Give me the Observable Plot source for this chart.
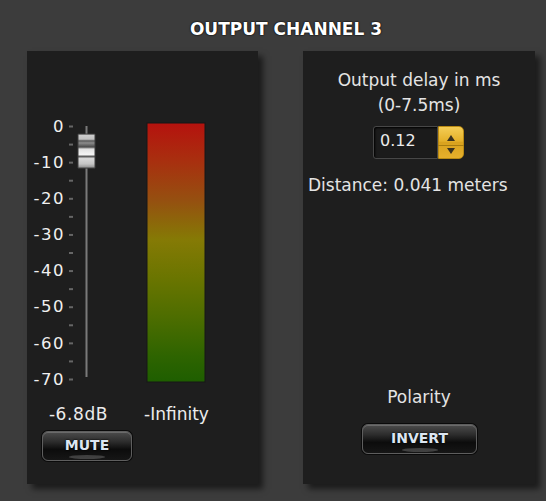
<!DOCTYPE html>
<html><head><meta charset="utf-8">
<script src="https://cdn.jsdelivr.net/npm/d3@7"></script>
<script src="https://cdn.jsdelivr.net/npm/@observablehq/plot@0.6"></script>
<style>
html,body{margin:0;padding:0;}
body{width:546px;height:501px;background:#3c3c3c;position:relative;overflow:hidden;font-family:"DejaVu Sans",Verdana,sans-serif;color:#e6e6e6;}
.panel{position:absolute;background:#1e1e1e;box-shadow:5px 5px 6px rgba(0,0,0,0.55);}
#title{position:absolute;left:186px;width:200px;top:19px;text-align:center;font-weight:bold;font-size:17px;color:#fff;text-shadow:0 0 2px #000,0 0 1px #000;line-height:20px;white-space:nowrap;}
.txt{position:absolute;font-size:17px;line-height:20px;white-space:nowrap;color:#e4e4e4;}
.ctr{left:303px;width:232px;text-align:center;}
.btn{position:absolute;box-sizing:border-box;border-radius:6px;border:1px solid #5e5e5e;background:linear-gradient(#4c4c4c 0%,#2c2c2c 35%,#0c0c0c 62%,#161616 100%);box-shadow:inset 0 1px 0 rgba(255,255,255,0.18),0 0 0 1px #0a0a0a;text-align:center;font-weight:bold;font-size:14px;line-height:26px;color:#dce6f2;text-shadow:0 0 2px #000,0 0 1px #000;}
.btn::after{content:"";position:absolute;left:50%;bottom:1px;width:36px;margin-left:-18px;height:4px;border-radius:50%;background:rgba(120,120,120,0.45);}
#spin{position:absolute;left:373px;top:126px;width:65px;height:33px;box-sizing:border-box;background:#1b1b1b;border:1px solid #474747;border-radius:3px 0 0 3px;box-shadow:inset 1px 1px 2px #000;}
#spinVal{position:absolute;left:380px;top:131px;font-size:16px;line-height:20px;color:#ececec;}
#spinBtn{position:absolute;left:438px;top:126px;width:26px;height:33px;box-sizing:border-box;background:linear-gradient(#f4cd55,#e5b12a 45%,#d9a21e 50%,#e6b02c 100%);border-radius:0 5px 5px 0;border:1px solid #b98a14;}
#sep{position:absolute;left:438px;top:145px;width:26px;height:1px;background:#a87d10;}
.tri{position:absolute;width:0;height:0;border-left:4px solid transparent;border-right:4px solid transparent;}
#up{left:447px;top:135px;border-bottom:6px solid #3a3220;}
#dn{left:447px;top:148px;border-top:6px solid #3a3220;}
svg.main{position:absolute;left:0;top:0;}
svg.main g[aria-label="y-axis tick label"] text{letter-spacing:1.5px;}
svg.main g.faderlab text{letter-spacing:0.6px;}
</style>
</head><body>
<script>
// ---- data ----
const titleText = "OUTPUT CHANNEL 3";
const channels = ["fader", "meter"];
const majorTicks = [0, -10, -20, -30, -40, -50, -60, -70];
const minorTicks = [-5, -15, -25, -35, -45, -55, -65];
const meterSpan = [0, -70];
const faderLevel = [-6.8];
const meterLevel = [-Infinity];
const delayLabels = ["Output delay in ms", "(0-7.5ms)"];
const delayValue = [0.12];
const distanceValue = [0.041];
const polarityLabel = ["Polarity"];
const buttonLabels = ["MUTE", "INVERT"];

// ---- chrome ----
function el(tag, attrs, text) {
  const e = document.createElement(tag);
  Object.assign(e, attrs);
  if (text != null) e.textContent = text;
  document.body.appendChild(e);
  return e;
}
el("div", {id: "title"}, titleText);
const p1 = el("div", {className: "panel"}); Object.assign(p1.style, {left: "27px", top: "51px", width: "231px", height: "433px"});
const p2 = el("div", {className: "panel"}); Object.assign(p2.style, {left: "303px", top: "51px", width: "232px", height: "433px"});
const t1 = el("div", {className: "txt ctr"}, delayLabels[0]); t1.style.top = "70px";
const t2 = el("div", {className: "txt ctr"}, delayLabels[1]); t2.style.top = "95px";
el("div", {id: "spin"});
el("div", {id: "spinVal"}, delayValue[0].toFixed(2));
el("div", {id: "spinBtn"});
el("div", {id: "sep"});
el("div", {id: "up", className: "tri"});
el("div", {id: "dn", className: "tri"});
const t3 = el("div", {className: "txt"}, `Distance: ${distanceValue[0]} meters`); Object.assign(t3.style, {left: "308px", top: "175px"});
const t4 = el("div", {className: "txt ctr"}, polarityLabel[0]); t4.style.top = "387px";
const b1 = el("div", {className: "btn"}, buttonLabels[0]); Object.assign(b1.style, {left: "42px", top: "431px", width: "90px", height: "30px"});
const b2 = el("div", {className: "btn"}, buttonLabels[1]); Object.assign(b2.style, {left: "362px", top: "424px", width: "115px", height: "30px"});

// ---- plot ----
const knobSymbol = {draw(ctx) { ctx.rect(-8.5, -17, 17, 34); }};
const meterRows = [{ch: "meter", hi: meterSpan[0], lo: meterSpan[1]}];

const svg = Plot.plot({
  width: 546, height: 501,
  marginTop: 126, marginBottom: 122, marginLeft: 73, marginRight: 341,
  style: {background: "transparent", color: "#f0f0f0", fontFamily: "DejaVu Sans", fontSize: "16px", overflow: "visible"},
  x: {type: "band", domain: channels, range: [56.5, 205], paddingInner: 0.3591, paddingOuter: 0, axis: null},
  y: {domain: [-70, 0], label: null},
  marks: [
    Plot.barY(meterRows, {x: "ch", y1: "lo", y2: "hi", fill: "url(#meterGrad)", insetTop: -3, insetBottom: -3, stroke: "#161616", strokeWidth: 1}),
    Plot.axisY({ticks: [...majorTicks, ...minorTicks], tickSize: 4, tickFormat: () => "", stroke: "#666", strokeWidth: 2, label: null}),
    Plot.axisY({ticks: majorTicks, tickSize: 0, tickPadding: 8.5, tickFormat: d => String(d), fontSize: 16.5, fill: "#f0f0f0", label: null}),
    Plot.ruleX(["fader"], {y1: meterSpan[0], y2: meterSpan[1], stroke: "#7a7a7a", strokeWidth: 2, insetBottom: 2}),
    Plot.dot(faderLevel, {x: () => "fader", y: d => d, symbol: knobSymbol, r: 5, fill: "url(#knobGrad)", stroke: "#3c3c3c", strokeWidth: 1}),
    Plot.text(faderLevel, {x: () => "fader", text: d => `${d}dB`, frameAnchor: "bottom", lineAnchor: "bottom", dy: 40, dx: -8, fontSize: 17, fill: "#ececec", className: "faderlab"}),
    Plot.text(meterLevel, {x: () => "meter", text: d => `${d}`, frameAnchor: "bottom", lineAnchor: "bottom", dy: 40, fontSize: 17, fill: "#ececec"})
  ]
});
svg.classList.add("main");
const defs = d3.select(svg).insert("defs", ":first-child");
function grad(id, stops) {
  const g = defs.append("linearGradient").attr("id", id).attr("x1", 0).attr("y1", 0).attr("x2", 0).attr("y2", 1);
  stops.forEach(([o, c]) => g.append("stop").attr("offset", o).attr("stop-color", c));
}
grad("meterGrad", [[0, "#b5120e"], [0.15, "#a8300f"], [0.3, "#955010"], [0.45, "#857a05"], [0.6, "#6a7500"], [0.75, "#4d6d00"], [0.9, "#2e6400"], [1, "#1e5e00"]]);
grad("knobGrad", [[0, "#d0d0d0"], [0.15, "#c0c0c0"], [0.2, "#5a5a5a"], [0.26, "#8c8c8c"], [0.32, "#6a6a6a"], [0.38, "#4a4a4a"], [0.44, "#e0e0e0"], [0.6, "#f4f4f4"], [0.66, "#5c5c5c"], [0.72, "#d8d8d8"], [0.88, "#c4c4c4"], [1, "#8a8a8a"]]);
document.body.appendChild(svg);
</script>
</body></html>
